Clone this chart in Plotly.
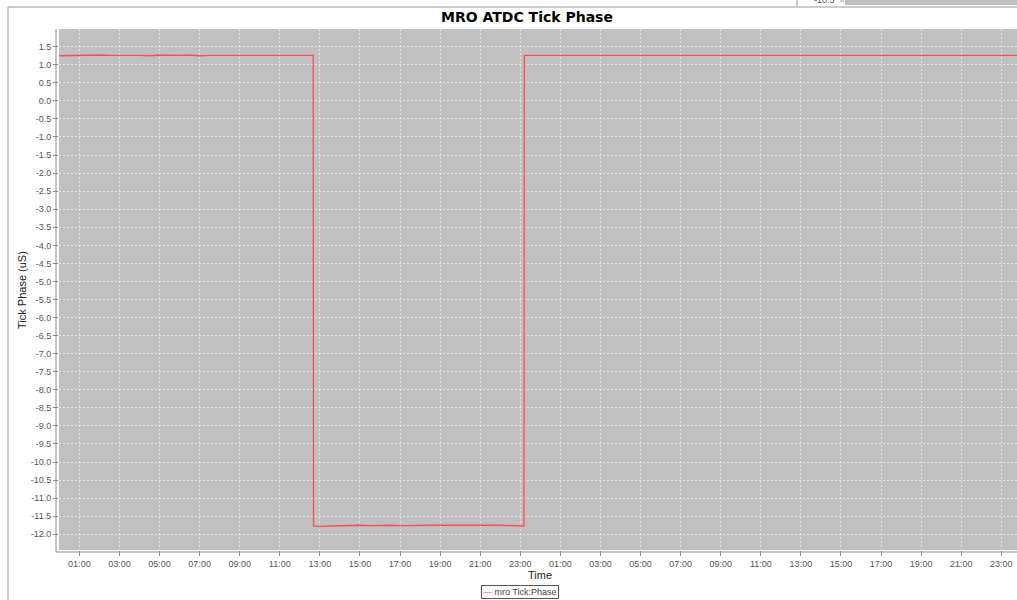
import pandas as pd
import plotly.graph_objects as go

# ---------------- data ----------------
series_name = "mro Tick:Phase"

seg1_times = list(pd.date_range("2010-03-01 00:00", "2010-03-01 12:30", freq="30min")) + [pd.Timestamp("2010-03-01 12:40")]
seg1_vals = [1.25, 1.26, 1.25, 1.26, 1.27, 1.26, 1.25, 1.26, 1.26, 1.25,
             1.27, 1.26, 1.26, 1.27, 1.25, 1.26, 1.26, 1.25, 1.26, 1.27,
             1.26, 1.25, 1.26, 1.26, 1.25, 1.26, 1.26]

seg2_times = ([pd.Timestamp("2010-03-01 12:41")]
              + list(pd.date_range("2010-03-01 13:00", "2010-03-01 23:00", freq="30min"))
              + [pd.Timestamp("2010-03-01 23:11")])
seg2_vals = [-11.77, -11.78, -11.77, -11.76, -11.76, -11.75, -11.76, -11.75, -11.75, -11.76,
             -11.75, -11.74, -11.75, -11.75, -11.76, -11.75, -11.75, -11.74, -11.75, -11.75,
             -11.76, -11.75, -11.77]

seg3_times = ([pd.Timestamp("2010-03-01 23:12")]
              + list(pd.date_range("2010-03-01 23:30", "2010-03-03 00:00", freq="30min")))
seg3_vals = [1.26, 1.26, 1.25, 1.26, 1.26, 1.25, 1.26, 1.27, 1.26, 1.25,
             1.25, 1.26, 1.26, 1.25, 1.26, 1.26, 1.27, 1.26, 1.26, 1.25,
             1.26, 1.25, 1.26, 1.26, 1.25, 1.26, 1.25, 1.26, 1.26, 1.25,
             1.26, 1.26, 1.27, 1.26, 1.26, 1.25, 1.26, 1.26, 1.26, 1.27,
             1.26, 1.25, 1.26, 1.26, 1.25, 1.26, 1.25, 1.26, 1.26, 1.25,
             1.26]

times = seg1_times + seg2_times + seg3_times
values = seg1_vals + seg2_vals + seg3_vals

y_tick_vals = [1.5, 1.0, 0.5, 0.0, -0.5, -1.0, -1.5, -2.0, -2.5, -3.0, -3.5, -4.0, -4.5,
               -5.0, -5.5, -6.0, -6.5, -7.0, -7.5, -8.0, -8.5, -9.0, -9.5, -10.0, -10.5,
               -11.0, -11.5, -12.0]
y_tick_text = ["%.1f" % v for v in y_tick_vals]

title_text = "MRO ATDC Tick Phase"
x_title = "Time"
y_title = "Tick Phase (uS)"

# ---------------- layout geometry ----------------
W, H = 1017, 600
L, R, T, B = 59, 0, 29, 50
PW, PH = W - L - R, H - T - B


def px_x(px):
    return (px - L) / PW


def px_y(py):
    return (H - B - py) / PH


LINE_RED = "#ff4f4f"
PLOT_BG = "#c0c0c0"
AXIS_GREY = "#8a8a8a"
GRID = "rgba(255,255,255,0.55)"

fig = go.Figure()
fig.add_trace(go.Scatter(
    x=times, y=values, mode="lines", name=series_name,
    line=dict(color=LINE_RED, width=1.3), showlegend=False,
))

tick_font = dict(family="Liberation Sans, Arial, sans-serif", size=9, color="#555555")

fig.update_layout(
    width=W, height=H,
    margin=dict(l=L, r=R, t=T, b=B, pad=0),
    paper_bgcolor="white",
    plot_bgcolor=PLOT_BG,
    showlegend=False,
    title=dict(text="<b>" + title_text + "</b>", x=527 / W, xref="container", xanchor="center",
               y=1 - 17 / H, yref="container", yanchor="middle",
               font=dict(family="DejaVu Sans, sans-serif", size=14, color="black")),
    xaxis=dict(
        type="date",
        range=["2010-02-28 23:59", "2010-03-02 23:47"],
        tick0="2010-03-01 01:00", dtick=2 * 3600 * 1000,
        tickformat="%H:%M",
        ticks="outside", ticklen=5, tickcolor=AXIS_GREY, tickwidth=1,
        tickfont=tick_font,
        showgrid=True, gridcolor=GRID, gridwidth=1, griddash="2px,2px",
        zeroline=False, showline=False,
    ),
    yaxis=dict(
        range=[-12.435, 1.99],
        tickmode="array", tickvals=y_tick_vals, ticktext=y_tick_text,
        ticks="outside", ticklen=5, tickcolor=AXIS_GREY, tickwidth=1,
        tickfont=tick_font,
        showgrid=True, gridcolor=GRID, gridwidth=1, griddash="2px,2px",
        zeroline=False, showline=False,
    ),
)

shapes = [
    # outer frame of the screenshot panel
    dict(type="line", xref="paper", yref="paper", x0=px_x(8), x1=px_x(1017), y0=px_y(7), y1=px_y(7),
         line=dict(color="#9a9a9a", width=1)),
    dict(type="line", xref="paper", yref="paper", x0=px_x(8), x1=px_x(8), y0=px_y(7), y1=px_y(600),
         line=dict(color="#9a9a9a", width=1)),
    # offset axis lines
    dict(type="line", xref="paper", yref="paper", x0=px_x(56), x1=px_x(56), y0=px_y(29), y1=px_y(552),
         line=dict(color=AXIS_GREY, width=1)),
    dict(type="line", xref="paper", yref="paper", x0=px_x(56), x1=px_x(1017), y0=px_y(552), y1=px_y(552),
         line=dict(color=AXIS_GREY, width=1)),
    # fragment of a neighbouring chart at the very top
    dict(type="rect", xref="paper", yref="paper", x0=px_x(845), x1=px_x(1017), y0=px_y(5), y1=px_y(-2),
         fillcolor=PLOT_BG, line=dict(width=0)),
    dict(type="line", xref="paper", yref="paper", x0=px_x(797), x1=px_x(797), y0=px_y(6), y1=px_y(-2),
         line=dict(color="#9a9a9a", width=1)),
    dict(type="line", xref="paper", yref="paper", x0=px_x(840), x1=px_x(844), y0=px_y(1), y1=px_y(1),
         line=dict(color="#9a9a9a", width=1)),
]
fig.update_layout(shapes=shapes)

annotations = [
    dict(text=x_title, xref="paper", yref="paper", x=px_x(540), y=px_y(575),
         xanchor="center", yanchor="middle", showarrow=False,
         font=dict(family="Liberation Sans, Arial, sans-serif", size=11, color="#222222")),
    dict(text=y_title, xref="paper", yref="paper", x=px_x(22), y=px_y(290), textangle=-90,
         xanchor="center", yanchor="middle", showarrow=False,
         font=dict(family="Liberation Sans, Arial, sans-serif", size=11, color="#222222")),
    # legend box
    dict(text="<span style='color:%s'>\u2014</span> %s" % (LINE_RED, series_name),
         xref="paper", yref="paper", x=px_x(481), y=px_y(585),
         xanchor="left", yanchor="top", showarrow=False,
         bordercolor="#555555", borderwidth=1, borderpad=1, bgcolor="white",
         font=dict(family="Liberation Sans, Arial, sans-serif", size=9, color="#444444")),
    # partial label of the neighbouring chart
    dict(text="-10.5", xref="paper", yref="paper", x=px_x(837), y=px_y(0),
         xanchor="right", yanchor="middle", showarrow=False,
         font=dict(family="Liberation Sans, Arial, sans-serif", size=9, color="#555555")),
]
fig.update_layout(annotations=annotations)

fig.write_html("out.html", config={"displayModeBar": False},
               post_script="document.body.style.margin='0px';")
